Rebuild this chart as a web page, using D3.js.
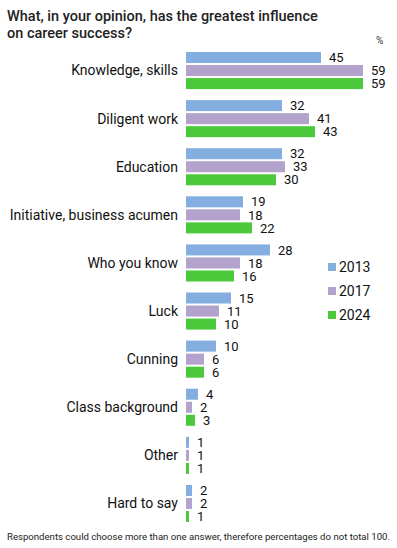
<!DOCTYPE html>
<html><head><meta charset="utf-8">
<script src="https://cdn.jsdelivr.net/npm/d3@7"></script>
<style>body{margin:0;background:#fff;} text{font-family:Roboto, "Noto Sans", sans-serif;}</style>
</head><body>
<svg id="c" width="397" height="548"></svg>
<script>
const categories = ["Knowledge, skills","Diligent work","Education","Initiative, business acumen","Who you know","Luck","Cunning","Class background","Other","Hard to say"];
const years = ["2013","2017","2024"];
const v2013 = [45,32,32,19,28,15,10,4,1,2];
const v2017 = [59,41,33,18,18,11,6,2,1,2];
const v2024 = [59,43,30,22,16,10,6,3,1,1];
const colors = ["#84ade0","#b3a2cb","#4cc93a"];
const series = [v2013, v2017, v2024];

const svg = d3.select("#c");
svg.append("text").attr("x",7).attr("y",21).attr("font-size",14.5).attr("font-weight",500).attr("fill","#222").text("What, in your opinion, has the greatest influence");
svg.append("text").attr("x",7).attr("y",38).attr("font-size",14.5).attr("font-weight",500).attr("fill","#222").text("on career success?");
svg.append("text").attr("x",376).attr("y",44).attr("font-size",10).attr("fill","#333").text("%");

const x = d3.scaleLinear().domain([0,59]).range([186,363]);
const y0 = d3.scaleBand().domain(categories).range([52,522]).paddingInner(0.229).paddingOuter(0);
const y1 = d3.scaleBand().domain(years).range([0,y0.bandwidth()]).paddingInner(0.154);

const g = svg.append("g");
categories.forEach((c,i)=>{
  const gy = y0(c);
  g.append("text").attr("x",178).attr("y",gy+y0.bandwidth()/2).attr("dy","0.35em")
    .attr("text-anchor","end").attr("font-size",14).attr("fill","#111").text(c);
  years.forEach((yr,j)=>{
    const v = series[j][i];
    g.append("rect").attr("x",x(0)).attr("y",gy+y1(yr)).attr("width",x(v)-x(0)).attr("height",y1.bandwidth()).attr("fill",colors[j]);
    g.append("text").attr("x",x(v)+8).attr("y",gy+y1(yr)+y1.bandwidth()/2).attr("dy","0.36em")
      .attr("font-size",13).attr("fill","#111").text(v);
  });
});

const leg = svg.append("g");
years.forEach((yr,j)=>{
  const ly = 267 + j*24;
  leg.append("rect").attr("x",328).attr("y",ly-4).attr("width",8).attr("height",8).attr("fill",colors[j]);
  leg.append("text").attr("x",339).attr("y",ly).attr("dy","0.36em").attr("font-size",14).attr("fill","#111").text(yr);
});

svg.append("text").attr("x",7).attr("y",540).attr("font-size",9.6).attr("fill","#222")
  .text("Respondents could choose more than one answer, therefore percentages do not total 100.");
</script>
</body></html>
